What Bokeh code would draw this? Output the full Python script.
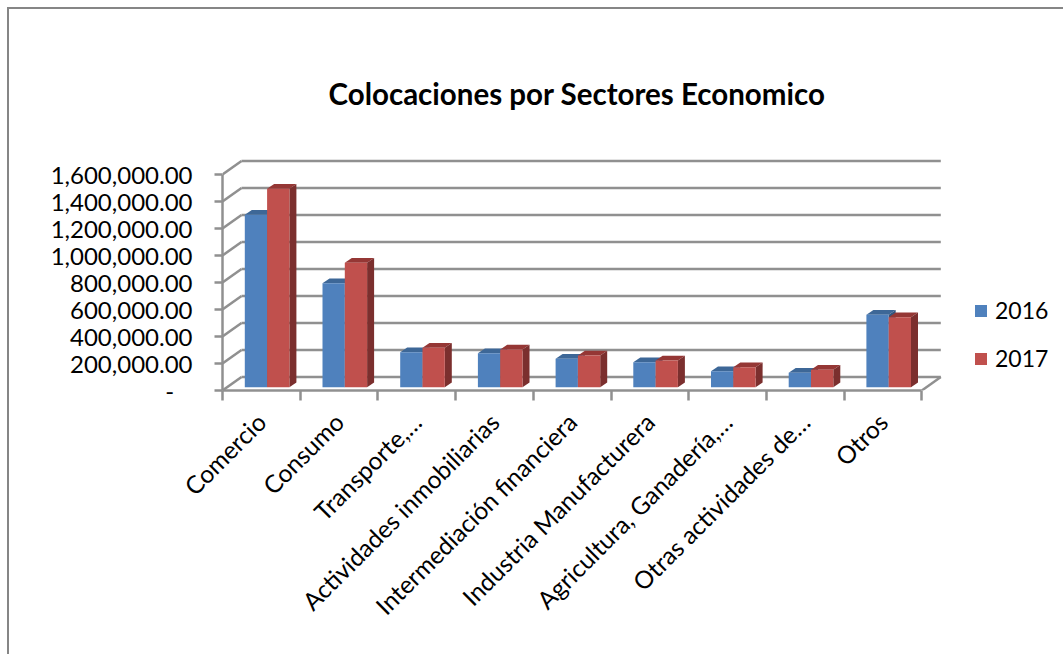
from math import pi

from bokeh.embed import file_html
from bokeh.models import (ColumnDataSource, FixedTicker, InlineStyleSheet, Legend, LegendItem,
                          LinearAxis, NumeralTickFormatter, Range1d)
from bokeh.plotting import figure
from bokeh.resources import INLINE

categories = ["Comercio", "Consumo", "Transporte,…", "Actividades inmobiliarias",
              "Intermediación financiera", "Industria Manufacturera",
              "Agricultura, Ganadería,…", "Otras actividades de…", "Otros"]
values_2016 = [1277000, 770000, 259000, 252000, 210000, 185000, 118000, 107000, 536000]
values_2017 = [1470000, 921000, 292000, 279000, 235000, 198000, 148000, 129000, 518000]
y_ticks = [0, 200000, 400000, 600000, 800000, 1000000, 1200000, 1400000, 1600000]

WIDTH, HEIGHT = 1063, 654
LEFT, BOTTOM, TOP = 222, 390, 130
CAT_PX = 77.7                       # pixels per category
VAL_PER_PX = 200000 / 27            # axis units per pixel
GRID = "#909090"
GRID_W = 2.5
FONT = "Lato"
BLUE = dict(front="#4f81bd", top="#3d6797", side="#33557e")
RED = dict(front="#c0504d", top="#953735", side="#7b2f2e")


def px_x(n):
    return n / CAT_PX


def px_y(n):
    return n * VAL_PER_PX


x_end = px_x(WIDTH - LEFT)
y_end = px_y(BOTTOM - TOP)

# Outer chart border, visible along the top and left edges of the page
border_css = InlineStyleSheet(css="""
:host { position: relative; }
:host::after {
  content: ""; position: absolute; left: 7px; top: 7px;
  width: 1056px; height: 647px; box-sizing: border-box;
  border-top: 2px solid #868686; border-left: 2px solid #868686;
  pointer-events: none;
}
""")

p = figure(width=WIDTH, height=HEIGHT, output_backend="svg", toolbar_location=None,
           x_range=Range1d(0, x_end), y_range=Range1d(0, y_end),
           x_axis_type=None, y_axis_type=None,
           min_border_left=LEFT, min_border_right=0,
           min_border_top=TOP, min_border_bottom=HEIGHT - BOTTOM,
           outline_line_color=None, background_fill_color="white",
           border_fill_color="white", stylesheets=[border_css])
p.grid.visible = False

p.title.text = "Colocaciones por Sectores Economico"
p.title.align = "left"
p.title.offset = 106
p.title.text_font = FONT
p.title.text_font_size = "29.5px"
p.title.text_font_style = "bold"
p.title.text_color = "black"
p.title.standoff = 39

yaxis = LinearAxis(ticker=FixedTicker(ticks=y_ticks), bounds=(0, y_ticks[-1]),
                   formatter=NumeralTickFormatter(format="0,0.00"),
                   major_label_overrides={0: "-\u00a0\u00a0\u00a0"},
                   major_label_text_font=FONT, major_label_text_font_size="24px",
                   major_label_text_color="black", major_label_standoff=22,
                   axis_line_color=GRID, axis_line_width=GRID_W,
                   major_tick_line_color=GRID, major_tick_line_width=GRID_W,
                   major_tick_in=0, major_tick_out=8,
                   minor_tick_line_color=None)
p.add_layout(yaxis, "left")

n = len(categories)
centres = [i + 0.5 for i in range(n)]
xaxis = LinearAxis(ticker=FixedTicker(ticks=centres, minor_ticks=list(range(n + 1))),
                   bounds=(0, n),
                   major_label_overrides={c: t for c, t in zip(centres, categories)},
                   major_label_orientation=pi / 4,
                   major_label_text_font=FONT, major_label_text_font_size="24.5px",
                   major_label_text_color="black", major_label_standoff=17,
                   axis_line_color=GRID, axis_line_width=GRID_W,
                   major_tick_line_color=None,
                   minor_tick_line_color=GRID, minor_tick_line_width=GRID_W,
                   minor_tick_in=0, minor_tick_out=10)
p.add_layout(xaxis, "below")

# Back wall, left wall and floor of the 3D box
DEPTH_X, DEPTH_Y = px_x(19), px_y(13.5)
p.segment(x0=[DEPTH_X] * len(y_ticks), x1=[n + DEPTH_X] * len(y_ticks),
          y0=[t + DEPTH_Y for t in y_ticks], y1=[t + DEPTH_Y for t in y_ticks],
          line_color=GRID, line_width=GRID_W)
p.segment(x0=[0] * len(y_ticks), x1=[DEPTH_X] * len(y_ticks),
          y0=y_ticks, y1=[t + DEPTH_Y for t in y_ticks],
          line_color=GRID, line_width=GRID_W)
p.segment(x0=[n], x1=[n + DEPTH_X], y0=[0], y1=[DEPTH_Y], line_color=GRID, line_width=GRID_W)

BAR_W = px_x(22.3)
BAR_LIFT = px_y(3.3)
SIDE_X, SIDE_Y = px_x(7), px_y(4.8)


def draw_series(values, offset, colors):
    lefts = [i + BAR_W + offset * BAR_W for i in range(n)]
    rights = [l + BAR_W for l in lefts]
    tops = [v + BAR_LIFT for v in values]
    top_xs = [[l, r, r + SIDE_X, l + SIDE_X] for l, r in zip(lefts, rights)]
    top_ys = [[t, t, t + SIDE_Y, t + SIDE_Y] for t in tops]
    side_xs = [[r, r + SIDE_X, r + SIDE_X, r] for r in rights]
    side_ys = [[BAR_LIFT, BAR_LIFT + SIDE_Y, t + SIDE_Y, t] for t in tops]
    p.patches(top_xs, top_ys, fill_color=colors["top"], line_color=None)
    p.patches(side_xs, side_ys, fill_color=colors["side"], line_color=None)
    src = ColumnDataSource(dict(left=lefts, right=rights, top=tops, bottom=[BAR_LIFT] * n))
    return p.quad(left="left", right="right", top="top", bottom="bottom", source=src,
                  fill_color=colors["front"], line_color=None)


front_2016 = draw_series(values_2016, 0, BLUE)
front_2017 = draw_series(values_2017, 1, RED)

legend = Legend(items=[LegendItem(label="2016", renderers=[front_2016]),
                       LegendItem(label="2017", renderers=[front_2017])],
                location=(973 - LEFT, 18), orientation="vertical",
                glyph_width=15, glyph_height=15, label_height=15, label_width=52,
                label_standoff=7, spacing=20, padding=0, margin=0,
                background_fill_alpha=0, border_line_color=None,
                label_text_font=FONT, label_text_font_size="23px",
                label_text_color="black")
p.add_layout(legend, "center")

open("out.html", "w").write(file_html(p, INLINE))
